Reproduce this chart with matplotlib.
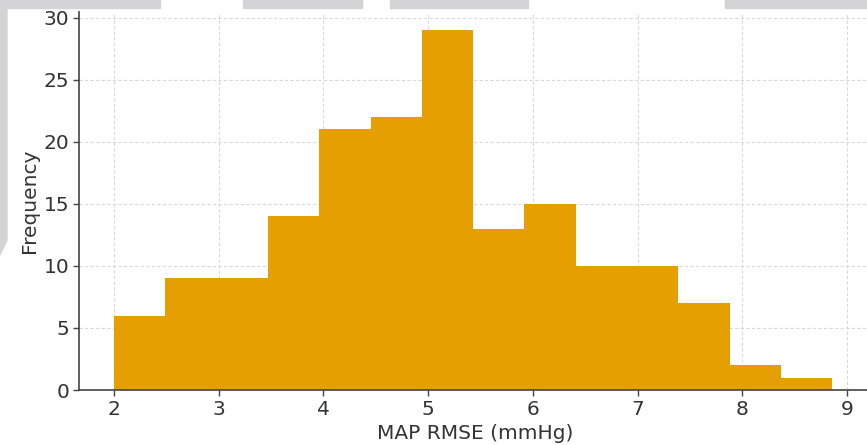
import matplotlib.pyplot as plt
from matplotlib.patches import Rectangle, Polygon
import numpy as np

# histogram of MAP RMSE
bin_edges = np.array([2.00, 2.49, 2.98, 3.47, 3.96, 4.45, 4.94, 5.43,
                      5.92, 6.41, 6.90, 7.39, 7.88, 8.37, 8.86])
counts = np.array([6, 9, 9, 14, 21, 22, 29, 13, 15, 10, 10, 7, 2, 1])

fig = plt.figure(figsize=(8.67, 4.45), dpi=100)

# page background bits around the crop
gray = "#d4d4d6"
for x0, x1 in [(0, 160), (243, 362), (390, 528), (725, 867)]:
    fig.patches.append(Rectangle((x0 / 867, 437 / 445), (x1 - x0) / 867, 8 / 445,
                                 transform=fig.transFigure, color=gray, zorder=0))
fig.patches.append(Polygon([(0, 1), (7 / 867, 1), (7 / 867, 205 / 445), (0, 190 / 445)],
                           closed=True, transform=fig.transFigure, color=gray, zorder=0))

ax = fig.add_axes([79 / 867, 55 / 445, 792 / 867, 378 / 445])
ax.hist(bin_edges[:-1], bins=bin_edges, weights=counts, color="#E69F00")

ax.set_xlim(1.666, 9.23)
ax.set_ylim(0, 30.45)
ax.set_xticks(np.arange(2, 10))
ax.set_yticks(np.arange(0, 31, 5))
ax.grid(True, linestyle=(0, (3, 2)), color="#d9d9d9", linewidth=0.8)
ax.set_axisbelow(True)

for s in ["top", "right"]:
    ax.spines[s].set_visible(False)
for s in ["left", "bottom"]:
    ax.spines[s].set_color("#444444")
    ax.spines[s].set_linewidth(1.2)

ax.tick_params(colors="#444444", labelcolor="#333333", labelsize=14.5, length=4, width=1,
               pad=3)
ax.set_xlabel("MAP RMSE (mmHg)", fontsize=14.5, color="#333333", labelpad=4)
ax.set_ylabel("Frequency", fontsize=14.5, color="#333333", labelpad=3)

fig.savefig("out.png", dpi=100)
